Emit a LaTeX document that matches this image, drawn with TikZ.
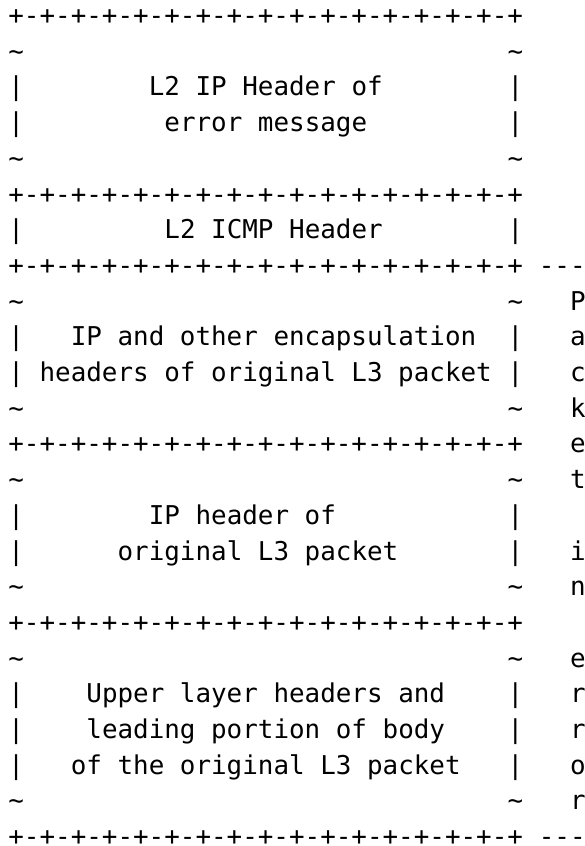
\documentclass[tikz,border=0pt]{standalone}
\usepackage{fontspec}
\setmonofont{DejaVu Sans Mono}

\begin{document}
\begin{tikzpicture}[x=15.6pt,y=-35.7pt,
  cell/.style={anchor=base west,inner sep=0pt,font=\ttfamily\fontsize{25.9}{30}\selectfont}]
\useasboundingbox (-1.026,0.524) rectangle (36.41,24.22);

% separator rows
\foreach \row in {1,6,8,13,18,24}{ \node[cell] (sep\row) at (-0.5,\row+0.21) {+-+-+-+-+-+-+-+-+-+-+-+-+-+-+-+-+}; }
% side marks
\foreach \row in {2,5,9,12,14,17,19,23}{ \node[cell] (tl\row) at (-0.5,\row+0.21) {\textasciitilde}; \node[cell] (tr\row) at (31.5,\row+0.21) {\textasciitilde}; }
\foreach \row in {3,4,7,10,11,15,16,20,21,22}{ \node[cell] (bl\row) at (-0.5,\row+0.21) {|}; \node[cell] (br\row) at (31.5,\row+0.21) {|}; }

% field texts
\foreach \row/\col/\txt in {3/9/L2 IP Header of, 4/10/error message, 7/10/L2 ICMP Header,
  10/4/IP and other encapsulation, 11/2/headers of original L3 packet,
  15/9/IP header of, 16/7/original L3 packet,
  20/5/Upper layer headers and, 21/5/leading portion of body, 22/4/of the original L3 packet}
{ \node[cell] (lab\row) at (\col-0.5,\row+0.21) {\txt};
}

% right margin
\node[cell] (dashtop) at (33.5,8.21) {---};
\node[cell] (dashbot) at (33.5,24.21) {---};
\foreach \row/\txt in {9/P,10/a,11/c,12/k,13/e,14/t,16/i,17/n,19/e,20/r,21/r,22/o,23/r}{ \node[cell] (side\row) at (35.5,\row+0.21) {\txt}; }
\end{tikzpicture}
\end{document}
